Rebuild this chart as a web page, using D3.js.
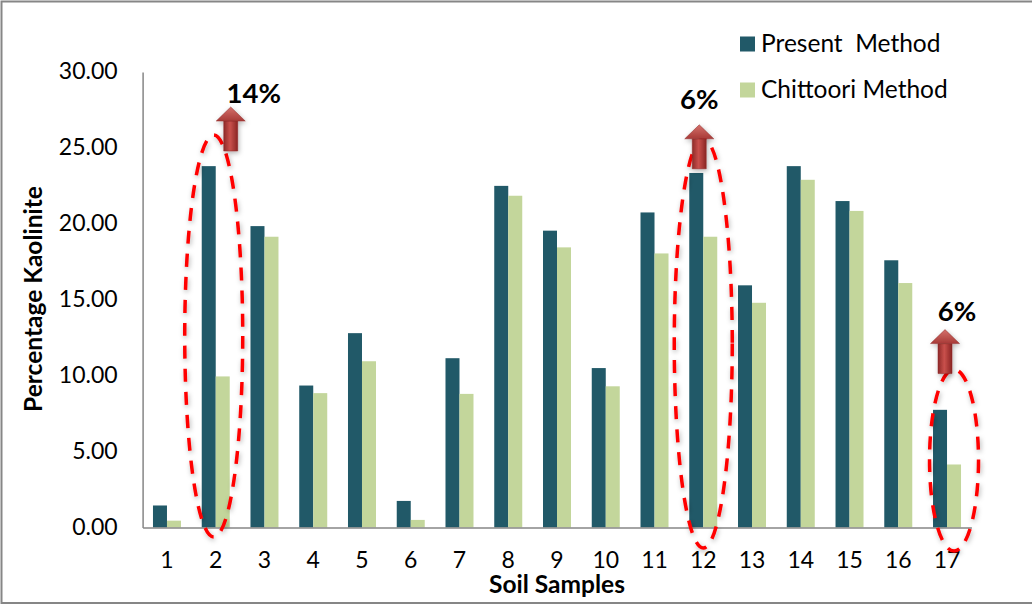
<!DOCTYPE html>
<html><head><meta charset="utf-8">
<script src="https://cdn.jsdelivr.net/npm/d3@7"></script>
<style>html,body{margin:0;padding:0;background:#fff}svg{display:block}text{font-family:Lato,"Open Sans",sans-serif;fill:#000}</style>
</head><body><div id="c"></div>
<script>
const categories=["1","2","3","4","5","6","7","8","9","10","11","12","13","14","15","16","17"];
const presentMethod=[1.45,23.8,19.85,9.35,12.8,1.75,11.15,22.5,19.55,10.5,20.75,23.35,15.95,23.8,21.5,17.6,7.75];
const chittooriMethod=[0.45,9.95,19.15,8.85,10.95,0.5,8.8,21.85,18.45,9.3,18.05,19.15,14.8,22.9,20.85,16.1,4.15];
const yTicks=[0,5,10,15,20,25,30];
const seriesNames=["Present  Method","Chittoori Method"];
const seriesColors=["#215968","#c3d69b"];
const annotationCats=["2","12","17"];
const annotationLabels=["14%","6%","6%"];
const annotationTops=[25.85,25.6,10.4];
const annotationBottoms=[-0.63,-1.35,-1.55];

const W=1032,H=606;
const svg=d3.select("#c").append("svg").attr("width",W).attr("height",H);
const defs=svg.append("defs");
const f=defs.append("filter").attr("id","sh").attr("x","-30%").attr("y","-30%").attr("width","160%").attr("height","160%");
f.append("feDropShadow").attr("dx",1).attr("dy",2).attr("stdDeviation",2.5).attr("flood-color","#000").attr("flood-opacity",0.3);
const g=defs.append("linearGradient").attr("id","ar").attr("x1",0).attr("x2",1).attr("y1",0).attr("y2",0);
[[0,"#8e2a28"],[0.45,"#c9504c"],[1,"#8a2523"]].forEach(s=>g.append("stop").attr("offset",s[0]).attr("stop-color",s[1]));
const g2=defs.append("linearGradient").attr("id","ar2").attr("x1",0).attr("x2",0).attr("y1",0).attr("y2",1);
[[0,"#d4706b"],[1,"#a83a37"]].forEach(s=>g2.append("stop").attr("offset",s[0]).attr("stop-color",s[1]));

svg.append("rect").attr("x",1.5).attr("y",1.5).attr("width",W+10).attr("height",H-4.5).attr("fill","#fff").attr("stroke","#868686").attr("stroke-width",2);

const x=d3.scaleBand().domain(categories).range([142.6,971.4]);
const y=d3.scaleLinear().domain([0,30]).range([527.5,72]);
const barW=14;
const cx=c=>x(c)+x.bandwidth()/2;

svg.selectAll("rect.p").data(categories).join("rect").attr("class","p")
 .attr("x",c=>cx(c)-barW).attr("width",barW)
 .attr("y",(c,i)=>y(presentMethod[i])).attr("height",(c,i)=>y(0)-y(presentMethod[i])).attr("fill",seriesColors[0]);
svg.selectAll("rect.c").data(categories).join("rect").attr("class","c")
 .attr("x",c=>cx(c)).attr("width",barW)
 .attr("y",(c,i)=>y(chittooriMethod[i])).attr("height",(c,i)=>y(0)-y(chittooriMethod[i])).attr("fill",seriesColors[1]);

const ya=svg.append("g").attr("transform","translate(142.6,0)").call(d3.axisLeft(y).tickValues(yTicks).tickFormat(d3.format(".2f")).tickSize(0).tickPadding(25));
ya.select(".domain").attr("stroke","#868686").attr("stroke-width",1.5);
ya.selectAll("text").style("font-size","23px").attr("dy","0.3em");
const xa=svg.append("g").attr("transform","translate(0,527.5)").call(d3.axisBottom(x).tickSize(0).tickPadding(24));
xa.select(".domain").attr("stroke","#868686").attr("stroke-width",1.5);
xa.selectAll("text").style("font-size","23px");

svg.append("text").attr("x",557).attr("y",593).attr("text-anchor","middle").style("font-size","24.5px").style("font-weight",700).text("Soil Samples");
svg.append("text").attr("transform","translate(42,299) rotate(-90)").attr("text-anchor","middle").style("font-size","24.5px").style("font-weight",700).text("Percentage Kaolinite");

seriesNames.forEach((n,i)=>{
 const ly=44+i*46;
 svg.append("rect").attr("x",740).attr("y",ly-7.5).attr("width",15).attr("height",15).attr("fill",seriesColors[i]);
 svg.append("text").attr("x",761).attr("y",ly+8).style("font-size","24.5px").attr("xml:space","preserve").style("white-space","pre").text(n);
});

annotationCats.forEach((c,i)=>{
 const isLast=i===2;
 const ex=cx(c)+(isLast?7:(i===0?-2:0));
 const rx=isLast?24.5:29;
 const top=y(annotationTops[i]),bot=y(annotationBottoms[i]);
 svg.append("ellipse").attr("cx",ex).attr("cy",(top+bot)/2).attr("rx",rx).attr("ry",(bot-top)/2)
  .attr("fill","none").attr("stroke","#ff0000").attr("stroke-width",3.5).attr("stroke-dasharray","13 10").attr("filter","url(#sh)");
 const ax=cx(c)+(i===0?15:(i===1?-4:-2));
 const tipY=top+(i===0?-28:(i===1?-14:-40));
 const a=svg.append("g").attr("transform",`translate(${ax},${tipY})`).attr("filter","url(#sh)");
 a.append("path").attr("d","M-7,14 H7 V44 H-7 Z").attr("fill","url(#ar)").attr("stroke","#8e2a28").attr("stroke-width",.5);
 a.append("path").attr("d","M0,0 L14.5,14 H-14.5 Z").attr("fill","url(#ar2)").attr("stroke","#8e2a28").attr("stroke-width",.5);
 svg.append("text").attr("x",ax+(i===0?23:(i===1?0:12))).attr("y",tipY-(i===0?4:(i===1?16:9))).attr("text-anchor","middle")
  .style("font-size","27.5px").style("font-weight",700).text(annotationLabels[i]);
});
</script></body></html>
